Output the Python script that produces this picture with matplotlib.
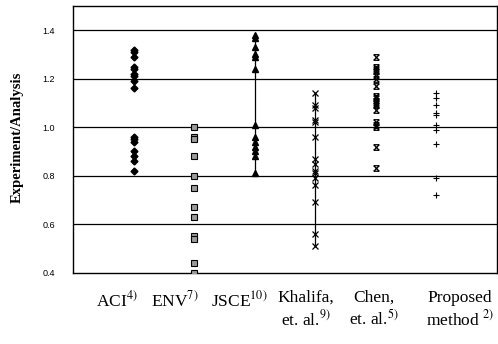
"""Scatter of experiment/analysis ratios for several design methods."""

import matplotlib

matplotlib.use("Agg")
import matplotlib.pyplot as plt
from matplotlib.path import Path

plt.rcParams["mathtext.fontset"] = "stix"

# ratios, one list per method
aci = [1.32, 1.31, 1.29, 1.25, 1.24, 1.22, 1.21, 1.19, 1.16,
       0.96, 0.95, 0.94, 0.90, 0.88, 0.86, 0.82]
env = [1.00, 0.96, 0.95, 0.88, 0.80, 0.75, 0.67, 0.63, 0.55, 0.54, 0.44, 0.40]
jsce = [1.38, 1.37, 1.33, 1.30, 1.29, 1.24, 1.01, 0.96, 0.94, 0.92, 0.90,
        0.88, 0.81]
khalifa = [1.14, 1.09, 1.08, 1.03, 1.02, 0.96, 0.87, 0.85, 0.82, 0.81, 0.79,
           0.76, 0.69, 0.56, 0.51]
chen = [1.29, 1.25, 1.24, 1.23, 1.21, 1.20, 1.17, 1.13, 1.12, 1.11, 1.10,
        1.09, 1.07, 1.02, 1.01, 1.00, 0.92, 0.83]
proposed = [1.14, 1.12, 1.09, 1.06, 1.05, 1.01, 0.99, 0.93, 0.79, 0.72]

methods = [aci, env, jsce, khalifa, chen, proposed]
labels = [
    "ACI$^{4)}$",
    "ENV$^{7)}$",
    "JSCE$^{10)}$",
    "Khalifa,\net. al.$^{9)}$",
    "Chen,\net. al.$^{5)}$",
    "Proposed\nmethod $^{2)}$",
]
label_x = [0.73, 1.68, 2.75, 3.85, 4.97, 6.39]
with_range_line = [False, False, True, True, False, False]

# x with bars on top and bottom, used for Chen
bowtie = Path(
    [(-1, 1), (1, -1), (-1, -1), (1, 1), (-1, 1), (1, 1), (-1, -1), (1, -1)],
    [Path.MOVETO, Path.LINETO, Path.MOVETO, Path.LINETO,
     Path.MOVETO, Path.LINETO, Path.MOVETO, Path.LINETO],
)

styles = [
    dict(marker="D", ms=3.5, mfc="black", mec="black"),
    dict(marker="s", ms=4.0, mfc="#9a9a9a", mec="black", mew=0.8),
    dict(marker="^", ms=4.5, mfc="black", mec="black"),
    dict(marker="x", ms=4.5, mec="black", mew=0.9),
    dict(marker=bowtie, ms=4.0, mfc="none", mec="black", mew=0.9),
    dict(marker="+", ms=5.0, mec="black", mew=0.8),
]

fig = plt.figure(figsize=(4.98, 3.44), dpi=100)
ax = fig.add_axes([0.1466, 0.2073, 0.851, 0.7753])

for i, (values, style) in enumerate(zip(methods, styles)):
    pos = i + 1
    if with_range_line[i]:
        ax.plot([pos, pos], [min(values), max(values)], color="black", lw=0.9,
                zorder=2)
    ax.plot([pos] * len(values), values, ls="none", zorder=3, **style)

ax.set_xlim(0, 7)
ax.set_ylim(0.4, 1.5)
for y in [0.6, 0.8, 1.0, 1.2, 1.4]:
    ax.axhline(y, color="black", lw=0.9, zorder=1)

for spine in ax.spines.values():
    spine.set_linewidth(1.0)

ax.set_yticks([0.4, 0.6, 0.8, 1.0, 1.2, 1.4])
ax.set_yticklabels(["0.4", "0.6", "0.8", "1.0", "1.2", "1.4"],
                   family="Liberation Sans", fontsize=6.5)
ax.tick_params(axis="y", length=0, pad=13)
ax.set_xticks([])

for x, text in zip(label_x, labels):
    ax.text(x, -0.065, text, transform=ax.get_xaxis_transform(),
            ha="center", va="top", family="Liberation Serif", fontsize=12.5,
            linespacing=1.2)

fig.text(0.034, 0.60, "Experiment/Analysis", rotation=90, ha="center",
         va="center", family="Liberation Serif", fontweight="bold",
         fontsize=10.5)

fig.savefig("out.png", dpi=100)
plt.close(fig)
